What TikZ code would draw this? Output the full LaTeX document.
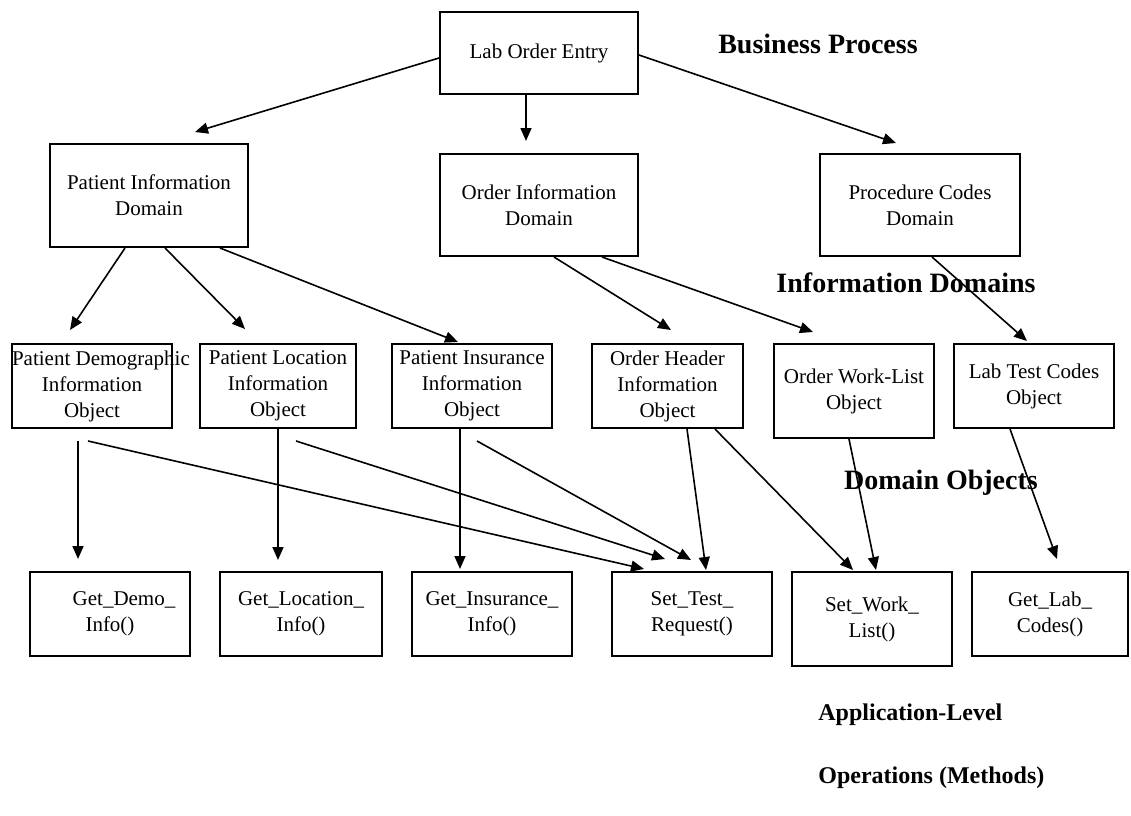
\documentclass[tikz,border=0pt]{standalone}
\usepackage{fontspec}
\setmainfont{Liberation Serif}
\usetikzlibrary{arrows.meta,calc}
\begin{document}
\begin{tikzpicture}[x=0.5pt,y=-0.5pt,
  box/.style={draw,line width=1pt,align=center,inner sep=0pt,font=\fontsize{10.5}{13}\selectfont},
  conn/.style={-{Triangle[length=6.5pt,width=5.5pt]},line width=0.8pt},
  ttl/.style={font=\fontsize{14}{17}\selectfont\bfseries,inner sep=0pt},
  ttlsmall/.style={font=\fontsize{12}{14}\selectfont\bfseries,inner sep=0pt,anchor=west}]
\useasboundingbox (0,0) rectangle (1131,815);

% level 1
\node[box,minimum width=99pt,minimum height=41pt] (loe) at (539,53) {Lab Order Entry};
% level 2
\node[box,minimum width=99pt,minimum height=51.5pt] (pid) at (149,195.5) {Patient Information\\Domain};
\node[box,minimum width=99pt,minimum height=51pt] (oid) at (539,205) {Order Information\\Domain};
\node[box,minimum width=100pt,minimum height=51pt] (pcd) at (920,205) {Procedure Codes\\Domain};
% level 3
\node[box,minimum width=80pt,minimum height=42pt] (demo) at (92,386) {\makebox[80pt][l]{Patient Demographic}\\Information\\Object};
\node[box,minimum width=78pt,minimum height=42pt] (loc) at (278,386) {Patient Location\\Information\\Object};
\node[box,minimum width=80pt,minimum height=42pt] (ins) at (472,386) {Patient Insurance\\Information\\Object};
\node[box,minimum width=75.5pt,minimum height=42pt] (hdr) at (667.5,386) {Order Header\\Information\\Object};
\node[box,minimum width=80pt,minimum height=47pt] (wl) at (854,391) {Order Work-List\\Object};
\node[box,minimum width=80pt,minimum height=42pt] (ltc) at (1034,386) {Lab Test Codes\\Object};
% level 4
\node[box,minimum width=80pt,minimum height=42pt] (gdemo) at (110,614) {\hspace*{14pt}Get\_Demo\_\\Info()};
\node[box,minimum width=81pt,minimum height=42pt] (gloc) at (301,614) {Get\_Location\_\\Info()};
\node[box,minimum width=80pt,minimum height=42pt] (gins) at (492,614) {Get\_Insurance\_\\Info()};
\node[box,minimum width=80pt,minimum height=42pt] (stest) at (692,614) {Set\_Test\_\\Request()};
\node[box,minimum width=80pt,minimum height=47pt] (swork) at (872,619) {Set\_Work\_\\List()};
\node[box,minimum width=78pt,minimum height=42pt] (glab) at (1050,614) {Get\_Lab\_\\Codes()};

% headings
\node[ttl] (bp) at (818,44) {Business Process};
\node[ttl] (idom) at (906,283) {Information Domains};
\node[ttl] (dobj) at (941,483) {Domain Objects};
\node[ttlsmall] (alo) at (818,715) {Application-Level};
\node[ttlsmall] (opm) at (818,778) {Operations (Methods)};

% connectors level 1 -> 2
\draw[conn] ($(loe.west)+(0,5)$) -- ($(pid.north)+(46,-11)$);
\draw[conn] ($(loe.south)+(-13,0)$) -- ($(oid.north)+(-13,-12)$);
\draw[conn] ($(loe.east)+(0,2)$) -- ($(pcd.north)+(-24,-10)$);
% level 2 -> 3
\draw[conn] ($(pid.south)+(-24,0)$) -- ($(demo.north)+(-22,-13)$);
\draw[conn] ($(pid.south)+(16,0)$) -- ($(loc.north)+(-33,-14)$);
\draw[conn] ($(pid.south)+(71,0)$) -- ($(ins.north)+(-14,-1)$);
\draw[conn] ($(oid.south)+(15,0)$) -- ($(hdr.north)+(3.5,-13)$);
\draw[conn] ($(oid.south)+(63,0)$) -- ($(wl.north)+(-41,-11)$);
\draw[conn] ($(pcd.south)+(12,0)$) -- ($(ltc.north)+(-7,-2)$);
% level 3 -> 4
\draw[conn] ($(demo.south)+(-14,12)$) -- ($(gdemo.north)+(-32,-12)$);
\draw[conn] ($(demo.south)+(-4,12)$) -- ($(stest.north)+(-48,-2)$);
\draw[conn] (loc.south) -- ($(gloc.north)+(-23,-11)$);
\draw[conn] ($(loc.south)+(18,12)$) -- ($(stest.north)+(-27,-12)$);
\draw[conn] ($(ins.south)+(-12,0)$) -- ($(gins.north)+(-32,-2)$);
\draw[conn] ($(ins.south)+(5,12)$) -- ($(stest.north)+(-1,-11)$);
\draw[conn] ($(hdr.south)+(19.5,0)$) -- ($(stest.north)+(14,-1)$);
\draw[conn] ($(hdr.south)+(47.5,0)$) -- ($(swork.north)+(-19,-1)$);
\draw[conn] ($(wl.south)+(-5,0)$) -- ($(swork.north)+(4,-1)$);
\draw[conn] ($(ltc.south)+(-24,0)$) -- ($(glab.north)+(7,-12)$);
\end{tikzpicture}
\end{document}
